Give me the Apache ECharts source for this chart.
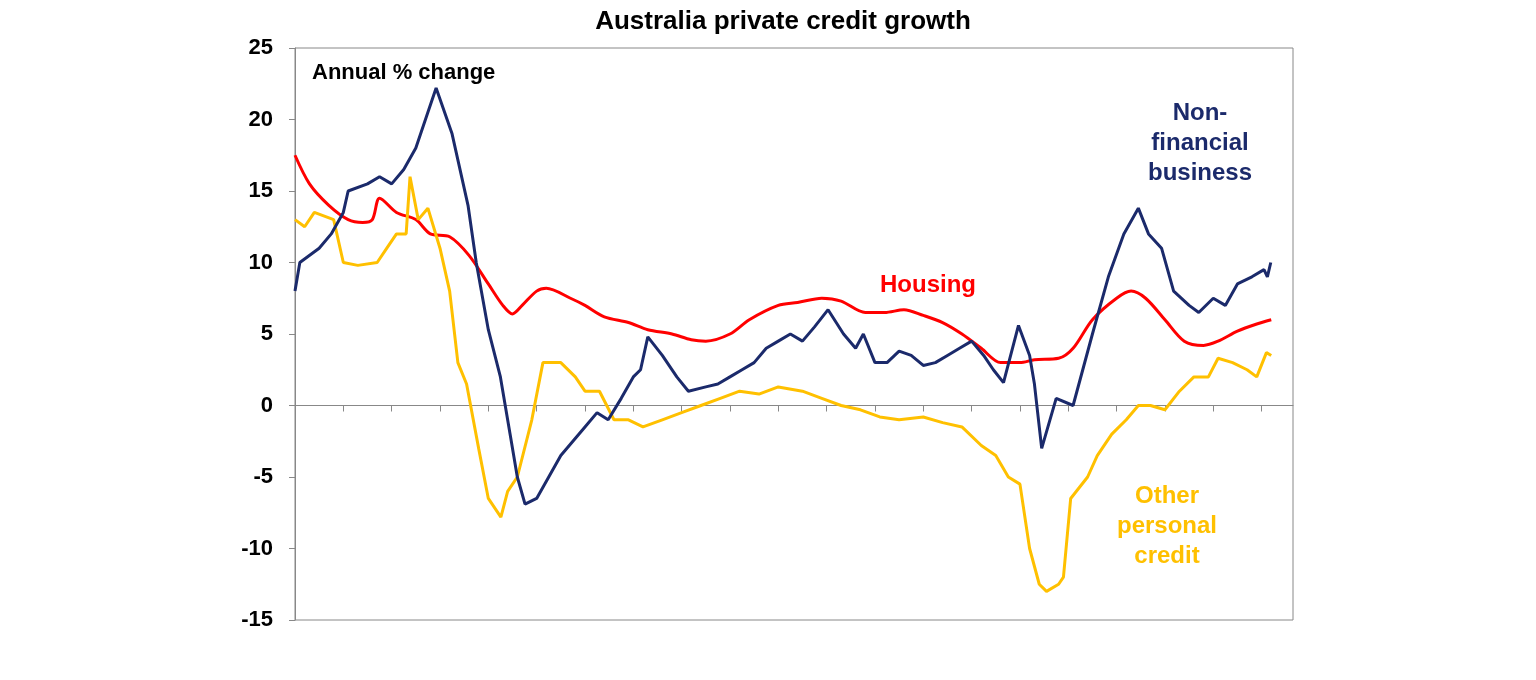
<!DOCTYPE html>
<html><head><meta charset="utf-8">
<script src="https://cdn.jsdelivr.net/npm/echarts@6/dist/echarts.min.js"></script>
<style>html,body{margin:0;padding:0;background:#fff}#c{width:1536px;height:680px}</style>
</head><body><div id="c"></div>
<script>
const businessX=[2005.0,2005.1,2005.5,2005.75,2006.0,2006.1,2006.5,2006.75,2007.0,2007.25,2007.5,2007.75,2007.92,2008.25,2008.58,2008.75,2009.0,2009.25,2009.45,2009.6,2009.76,2010.0,2010.25,2010.5,2010.75,2011.0,2011.25,2011.48,2011.75,2012.0,2012.15,2012.3,2012.6,2012.9,2013.14,2013.5,2013.75,2014.0,2014.25,2014.5,2014.75,2015.0,2015.25,2015.5,2015.75,2016.03,2016.35,2016.6,2016.76,2017.0,2017.25,2017.5,2017.75,2018.0,2018.25,2018.5,2018.75,2019.0,2019.25,2019.45,2019.66,2019.97,2020.2,2020.3,2020.45,2020.75,2021.1,2021.5,2021.83,2022.15,2022.45,2022.66,2022.93,2023.18,2023.5,2023.7,2024.0,2024.25,2024.5,2024.8,2025.05,2025.12,2025.19];
const businessY=[8,10,11,12,13.5,15,15.5,16,15.5,16.5,18,20.5,22.2,19,14,10,5.3,2,-2,-5,-6.9,-6.5,-5,-3.5,-2.5,-1.5,-0.5,-1,0.5,2,2.5,4.8,3.5,2,1,1.3,1.5,2,2.5,3,4,4.5,5,4.5,5.5,6.7,5,4,5,3,3,3.8,3.5,2.8,3,3.5,4,4.5,3.5,2.5,1.6,5.6,3.5,1.5,-3,0.5,0,5,9,12,13.8,12,11,8,7,6.5,7.5,7,8.5,9,9.5,9,10];
const housingX=[2005.0,2005.3,2005.7,2006.1,2006.4,2006.6,2006.75,2007.1,2007.5,2007.8,2008.2,2008.6,2009.0,2009.3,2009.5,2009.7,2010.0,2010.2,2010.7,2011.0,2011.4,2011.9,2012.3,2012.8,2013.2,2013.5,2014.0,2014.4,2015.0,2015.4,2015.9,2016.3,2016.8,2017.2,2017.6,2018.0,2018.4,2018.8,2019.2,2019.6,2020.0,2020.3,2020.8,2021.1,2021.5,2022.0,2022.3,2022.6,2023.0,2023.4,2023.8,2024.1,2024.5,2024.9,2025.2];
const housingY=[17.5,15.5,14,13,12.8,13,14.5,13.5,13,12,11.8,10.5,8.5,7,6.4,7,8,8.2,7.5,7,6.2,5.8,5.3,5,4.6,4.5,5,6,7,7.2,7.5,7.3,6.5,6.5,6.7,6.3,5.8,5,4,3,3,3.2,3.3,4,6,7.5,8,7.5,6,4.5,4.2,4.5,5.2,5.7,6];
const personalX=[2005.0,2005.2,2005.4,2005.8,2006.0,2006.3,2006.7,2006.9,2007.1,2007.3,2007.38,2007.55,2007.75,2008.0,2008.2,2008.37,2008.55,2008.8,2009.0,2009.26,2009.4,2009.6,2009.9,2010.13,2010.5,2010.8,2011.0,2011.3,2011.6,2011.9,2012.2,2012.6,2013.0,2013.4,2013.8,2014.2,2014.6,2015.0,2015.5,2015.9,2016.3,2016.7,2017.1,2017.5,2018.0,2018.4,2018.8,2019.2,2019.5,2019.76,2020.0,2020.2,2020.4,2020.55,2020.8,2020.9,2021.05,2021.4,2021.6,2021.9,2022.2,2022.45,2022.7,2023.0,2023.3,2023.6,2023.9,2024.1,2024.4,2024.7,2024.9,2025.1,2025.2];
const personalY=[13,12.5,13.5,13,10,9.8,10,11,12,12,16,13,13.8,11,8,3,1.5,-3,-6.5,-7.8,-6,-5,-1,3,3,2,1,1,-1,-1,-1.5,-1,-0.5,0,0.5,1,0.8,1.3,1,0.5,0,-0.3,-0.8,-1,-0.8,-1.2,-1.5,-2.8,-3.5,-5,-5.5,-10,-12.5,-13,-12.5,-12,-6.5,-5,-3.5,-2,-1,0,0,-0.3,1,2,2,3.3,3,2.5,2,3.7,3.5];
const yTicks=[-15,-10,-5,0,5,10,15,20,25];
const zip=(a,b)=>a.map((x,i)=>[x,b[i]]);
const F='"Liberation Sans", Arial, sans-serif';
const chart=echarts.init(document.getElementById('c'));
chart.setOption({
  animation:false,
  title:{text:'Australia private credit growth',left:778,top:4,textAlign:'center',textStyle:{fontFamily:F,fontSize:26,fontWeight:'bold',color:'#000'}},
  grid:{left:295,right:243,top:48,bottom:60,show:true,borderColor:'#888',borderWidth:1,containLabel:false,outerBoundsMode:'none'},
  xAxis:{type:'value',min:2005,max:2025.65,interval:1,
    axisLine:{onZero:true,lineStyle:{color:'#888'}},axisTick:{show:true,inside:false,length:6,lineStyle:{color:'#888'}},splitLine:{show:false},
    axisLabel:{show:true,showMaxLabel:false,fontFamily:F,fontSize:22,fontWeight:'bold',color:'#000',margin:228,formatter:v=>String(Math.round(v)%100).padStart(2,'0')}},
  yAxis:{type:'value',min:-15,max:25,interval:5,splitLine:{show:false},
    axisLine:{show:true,lineStyle:{color:'#888'}},axisTick:{show:true,length:6,lineStyle:{color:'#888'}},
    axisLabel:{fontFamily:F,fontSize:22,fontWeight:'bold',color:'#000',margin:22}},
  series:[
    {type:'line',data:zip(housingX,housingY),showSymbol:false,smooth:0.3,lineStyle:{color:'#ff0000',width:3}},
    {type:'line',data:zip(personalX,personalY),showSymbol:false,lineStyle:{color:'#ffc000',width:3}},
    {type:'line',data:zip(businessX,businessY),showSymbol:false,lineStyle:{color:'#1b2a6b',width:3}}
  ],
  graphic:[
    {type:'text',left:312,top:62,style:{text:'Annual % change',font:'bold 22px '+F,fill:'#000'}},
    {type:'text',x:1200,y:98,style:{text:'Non-\nfinancial\nbusiness',font:'bold 24px '+F,fill:'#1b2a6b',align:'center',lineHeight:30}},
    {type:'text',x:928,y:273,style:{text:'Housing',font:'bold 24px '+F,fill:'#ff0000',align:'center'}},
    {type:'text',x:1167,y:481,style:{text:'Other\npersonal\ncredit',font:'bold 24px '+F,fill:'#ffc000',align:'center',lineHeight:30}}
  ]
});
</script></body></html>
